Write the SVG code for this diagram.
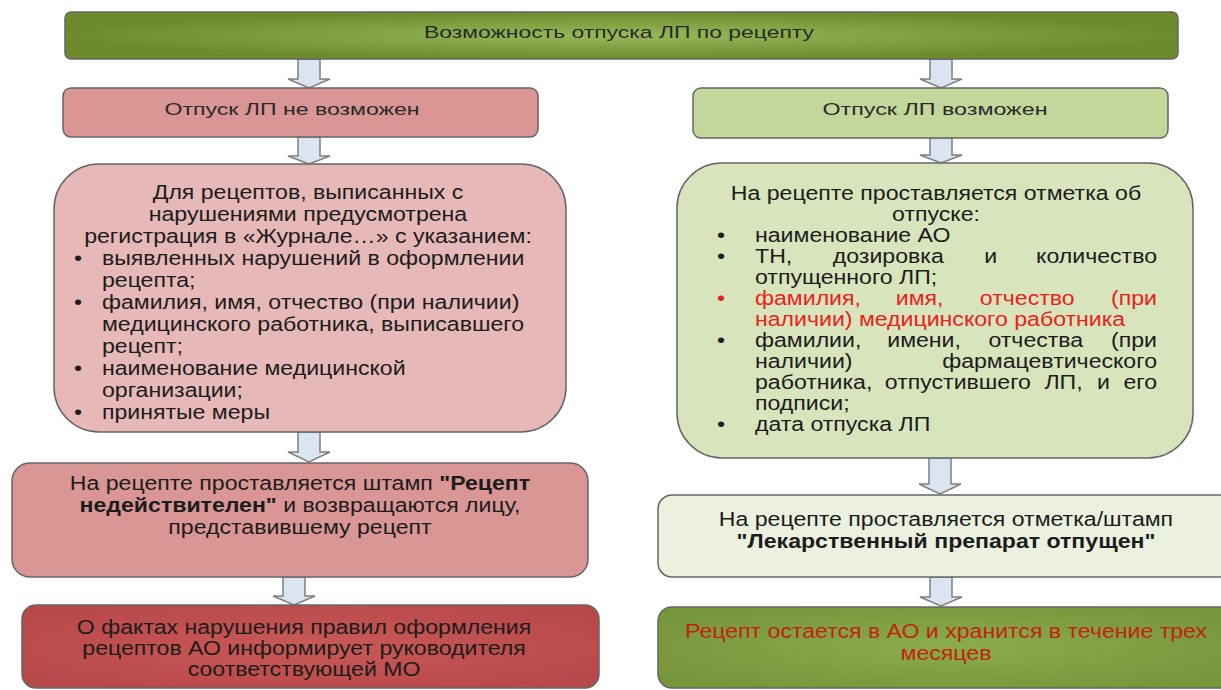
<svg xmlns="http://www.w3.org/2000/svg" width="1221" height="690" viewBox="0 0 1221 690">
<defs>
<radialGradient id="gTop" cx="50%" cy="50%" r="50%">
<stop offset="0" stop-color="#97b95a"/><stop offset="1" stop-color="#6c8b2d"/>
</radialGradient>
<radialGradient id="gR4" cx="50%" cy="50%" r="60%">
<stop offset="0" stop-color="#8aad4a"/><stop offset="1" stop-color="#76963a"/>
</radialGradient>
<radialGradient id="gL4" cx="50%" cy="50%" r="60%">
<stop offset="0" stop-color="#c85a56"/><stop offset="1" stop-color="#b9484a"/>
</radialGradient>
</defs>
<style>
text{font-family:"Liberation Sans",Arial,sans-serif;fill:#1c1c1c}
.box{stroke:#666;stroke-width:1.5}
.hd{font-size:17px;fill:#2a2a2a}
.bd{font-size:21px}
.c{text-anchor:middle}
.e{text-anchor:end}
.b{font-weight:bold}
.red{fill:#e8221c}
.arrow{fill:#dbe5f1;stroke:#7f7f7f;stroke-width:1.5;stroke-linejoin:miter}
</style>

<g id="connectors">
<path class="arrow" d="M298,59 L320,59 L320,79 L330,79 L309,88 L288,79 L298,79 Z"/>
<path class="arrow" d="M930,59 L952,59 L952,79 L962,79 L941,88 L920,79 L930,79 Z"/>
<path class="arrow" d="M298,137 L320,137 L320,156 L330,156 L309,164 L288,156 L298,156 Z"/>
<path class="arrow" d="M930,138 L952,138 L952,155 L962,155 L941,163 L920,155 L930,155 Z"/>
<path class="arrow" d="M298,432 L320,432 L320,452 L330,452 L309,462 L288,452 L298,452 Z"/>
<path class="arrow" d="M929,458 L951,458 L951,484 L961,484 L940,494 L919,484 L929,484 Z"/>
<path class="arrow" d="M283,577 L305,577 L305,596 L315,596 L294,605 L273,596 L283,596 Z"/>
<path class="arrow" d="M930,577 L952,577 L952,597 L962,597 L941,606 L920,597 L930,597 Z"/>
</g>

<g id="top">
<rect class="box" x="65" y="12" width="1113" height="47" rx="6" fill="url(#gTop)"/>
<text class="hd c" x="619" y="38" textLength="390" lengthAdjust="spacingAndGlyphs">Возможность отпуска ЛП по рецепту</text>
</g>

<g id="left1">
<rect class="box" x="63" y="88" width="475" height="49" rx="8" fill="#d99694"/>
<text class="hd c" x="292" y="115" textLength="255" lengthAdjust="spacingAndGlyphs">Отпуск ЛП не возможен</text>
</g>

<g id="right1">
<rect class="box" x="693" y="88" width="475" height="50" rx="8" fill="#c4d79b"/>
<text class="hd c" x="935" y="115" textLength="225" lengthAdjust="spacingAndGlyphs">Отпуск ЛП возможен</text>
</g>

<g id="left2">
<rect class="box" x="54" y="164" width="512" height="268" rx="45" fill="#e6b9b8"/>
<g transform="scale(1.1 1)" class="bd">
<text class="bd c" x="280" y="199">Для рецептов, выписанных с</text>
<text class="bd c" x="280" y="221">нарушениями предусмотрена</text>
<text class="bd c" x="280" y="243">регистрация в «Журнале…» с указанием:</text>
<text class="bd" x="67.3" y="265">•</text>
<text class="bd" x="92.7" y="265">выявленных нарушений в оформлении</text>
<text class="bd" x="92.7" y="287">рецепта;</text>
<text class="bd" x="67.3" y="309">•</text>
<text class="bd" x="92.7" y="309">фамилия, имя, отчество (при наличии)</text>
<text class="bd" x="92.7" y="331">медицинского работника, выписавшего</text>
<text class="bd" x="92.7" y="353">рецепт;</text>
<text class="bd" x="67.3" y="375">•</text>
<text class="bd" x="92.7" y="375">наименование медицинской</text>
<text class="bd" x="92.7" y="397">организации;</text>
<text class="bd" x="67.3" y="419">•</text>
<text class="bd" x="92.7" y="419">принятые меры</text>
</g>
</g>

<g id="right2">
<rect class="box" x="677" y="163" width="516" height="295" rx="45" fill="#d8e4bc"/>
<g transform="scale(1.1 1)">
<text class="bd c" x="850.9" y="200">На рецепте проставляется отметка об</text>
<text class="bd c" x="850.9" y="221">отпуске:</text>
<text class="bd" x="651.8" y="242">•</text>
<text class="bd" x="686.4" y="242">наименование АО</text>
<text class="bd" x="651.8" y="263">•</text>
<text class="bd" x="686.4" y="263">ТН,</text>
<text class="bd" x="757.1" y="263">дозировка</text>
<text class="bd" x="894.8" y="263">и</text>
<text class="bd e" x="1051.8" y="263">количество</text>
<text class="bd" x="686.4" y="284">отпущенного ЛП;</text>
<text class="bd red" x="651.8" y="305">•</text>
<text class="bd red" x="686.4" y="305">фамилия,</text>
<text class="bd red" x="814.4" y="305">имя,</text>
<text class="bd red" x="890.8" y="305">отчество</text>
<text class="bd red e" x="1051.8" y="305">(при</text>
<text class="bd red" x="686.4" y="326">наличии) медицинского работника</text>
<text class="bd" x="651.8" y="347">•</text>
<text class="bd" x="686.4" y="347">фамилии,</text>
<text class="bd" x="806.6" y="347">имени,</text>
<text class="bd" x="898.6" y="347">отчества</text>
<text class="bd e" x="1051.8" y="347">(при</text>
<text class="bd" x="686.4" y="368">наличии)</text>
<text class="bd e" x="1051.8" y="368">фармацевтического</text>
<text class="bd" x="686.4" y="389">работника,</text>
<text class="bd" x="804.4" y="389">отпустившего</text>
<text class="bd" x="949.5" y="389">ЛП,</text>
<text class="bd" x="997.3" y="389">и</text>
<text class="bd e" x="1051.8" y="389">его</text>
<text class="bd" x="686.4" y="410">подписи;</text>
<text class="bd" x="651.8" y="431">•</text>
<text class="bd" x="686.4" y="431">дата отпуска ЛП</text>
</g>
</g>

<g id="left3">
<rect class="box" x="12" y="463" width="576" height="114" rx="18" fill="#d99694"/>
<g transform="scale(1.1 1)">
<text class="bd c" x="272.7" y="490">На рецепте проставляется штамп <tspan class="b">"Рецепт</tspan></text>
<text class="bd c" x="272.7" y="512"><tspan class="b">недействителен"</tspan> и возвращаются лицу,</text>
<text class="bd c" x="272.7" y="534">представившему рецепт</text>
</g>
</g>

<g id="right3">
<rect class="box" x="658" y="495" width="580" height="82" rx="14" fill="#ebf1de"/>
<g transform="scale(1.1 1)">
<text class="bd c" x="860" y="526">На рецепте проставляется отметка/штамп</text>
<text class="bd c b" x="860" y="548">"Лекарственный препарат отпущен"</text>
</g>
</g>

<g id="left4">
<rect class="box" x="22" y="605" width="577" height="83" rx="14" fill="url(#gL4)"/>
<g transform="scale(1.1 1)">
<text class="bd c" x="276.4" y="634">О фактах нарушения правил оформления</text>
<text class="bd c" x="276.4" y="655">рецептов АО информирует руководителя</text>
<text class="bd c" x="276.4" y="676">соответствующей МО</text>
</g>
</g>

<g id="right4">
<rect class="box" x="658" y="607" width="580" height="81" rx="14" fill="url(#gR4)"/>
<g transform="scale(1.1 1)">
<text class="bd c" x="860" y="638" style="fill:#c4230f">Рецепт остается в АО и хранится в течение трех</text>
<text class="bd c" x="860" y="660" style="fill:#c4230f">месяцев</text>
</g>
</g>
</svg>
